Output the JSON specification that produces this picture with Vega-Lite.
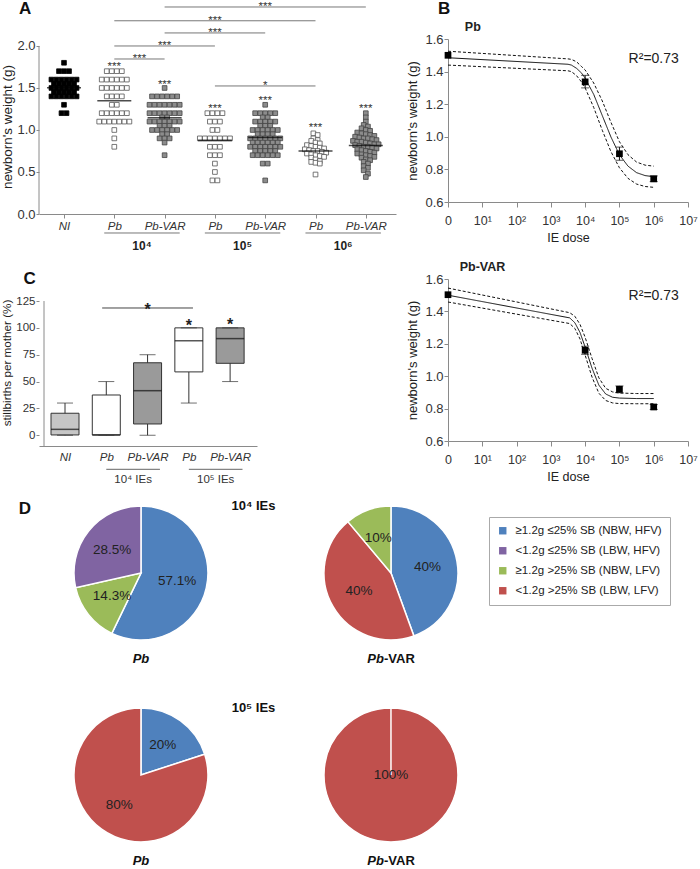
{
"$schema": "https://vega.github.io/schema/vega-lite/v6.json",
"background": "white",
"padding": {"left": 0, "top": 0, "right": 0, "bottom": 0},
"autosize": {"type": "pad"},
"config": {
  "font": "Liberation Sans",
  "view": {"stroke": null},
  "axis": {"domainColor": "#8a8a8a", "tickColor": "#8a8a8a", "labelColor": "#333333", "titleColor": "#222222", "titleFontWeight": "normal", "grid": false, "labelFlush": false, "labelOverlap": false}
},
"columns": 2,
"bounds": "flush",
"spacing": {"row": 65, "column": 52},
"resolve": {"scale": {"fill": "independent", "stroke": "independent", "color": "independent", "strokeDash": "independent", "theta": "independent"}},
"datasets": {
"A": [
{"g":"NI","w":1.8},
{"g":"NI","w":1.7},{"g":"NI","w":1.7},{"g":"NI","w":1.7},
{"g":"NI","w":1.6},{"g":"NI","w":1.6},{"g":"NI","w":1.6},{"g":"NI","w":1.6},{"g":"NI","w":1.6},{"g":"NI","w":1.6},
{"g":"NI","w":1.55},{"g":"NI","w":1.55},{"g":"NI","w":1.55},{"g":"NI","w":1.55},{"g":"NI","w":1.55},
{"g":"NI","w":1.5},{"g":"NI","w":1.5},{"g":"NI","w":1.5},{"g":"NI","w":1.5},{"g":"NI","w":1.5},{"g":"NI","w":1.5},
{"g":"NI","w":1.45},{"g":"NI","w":1.45},{"g":"NI","w":1.45},{"g":"NI","w":1.45},{"g":"NI","w":1.45},
{"g":"NI","w":1.4},{"g":"NI","w":1.4},{"g":"NI","w":1.4},{"g":"NI","w":1.4},{"g":"NI","w":1.4},{"g":"NI","w":1.4},
{"g":"NI","w":1.3},
{"g":"NI","w":1.2},{"g":"NI","w":1.2},
{"g":"Pb 1e4","w":1.7},{"g":"Pb 1e4","w":1.7},{"g":"Pb 1e4","w":1.7},{"g":"Pb 1e4","w":1.7},
{"g":"Pb 1e4","w":1.6},{"g":"Pb 1e4","w":1.6},{"g":"Pb 1e4","w":1.6},{"g":"Pb 1e4","w":1.6},{"g":"Pb 1e4","w":1.6},{"g":"Pb 1e4","w":1.6},
{"g":"Pb 1e4","w":1.5},{"g":"Pb 1e4","w":1.5},{"g":"Pb 1e4","w":1.5},{"g":"Pb 1e4","w":1.5},{"g":"Pb 1e4","w":1.5},{"g":"Pb 1e4","w":1.5},
{"g":"Pb 1e4","w":1.4},{"g":"Pb 1e4","w":1.4},{"g":"Pb 1e4","w":1.4},{"g":"Pb 1e4","w":1.4},
{"g":"Pb 1e4","w":1.3},{"g":"Pb 1e4","w":1.3},
{"g":"Pb 1e4","w":1.2},{"g":"Pb 1e4","w":1.2},{"g":"Pb 1e4","w":1.2},{"g":"Pb 1e4","w":1.2},{"g":"Pb 1e4","w":1.2},{"g":"Pb 1e4","w":1.2},
{"g":"Pb 1e4","w":1.1},{"g":"Pb 1e4","w":1.1},{"g":"Pb 1e4","w":1.1},{"g":"Pb 1e4","w":1.1},{"g":"Pb 1e4","w":1.1},{"g":"Pb 1e4","w":1.1},{"g":"Pb 1e4","w":1.1},
{"g":"Pb 1e4","w":1.0},{"g":"Pb 1e4","w":0.9},{"g":"Pb 1e4","w":0.8},
{"g":"Pb-VAR 1e4","w":1.5},
{"g":"Pb-VAR 1e4","w":1.4},{"g":"Pb-VAR 1e4","w":1.4},{"g":"Pb-VAR 1e4","w":1.4},{"g":"Pb-VAR 1e4","w":1.4},{"g":"Pb-VAR 1e4","w":1.4},{"g":"Pb-VAR 1e4","w":1.4},
{"g":"Pb-VAR 1e4","w":1.3},{"g":"Pb-VAR 1e4","w":1.3},{"g":"Pb-VAR 1e4","w":1.3},{"g":"Pb-VAR 1e4","w":1.3},{"g":"Pb-VAR 1e4","w":1.3},{"g":"Pb-VAR 1e4","w":1.3},{"g":"Pb-VAR 1e4","w":1.3},
{"g":"Pb-VAR 1e4","w":1.2},{"g":"Pb-VAR 1e4","w":1.2},{"g":"Pb-VAR 1e4","w":1.2},{"g":"Pb-VAR 1e4","w":1.2},{"g":"Pb-VAR 1e4","w":1.2},{"g":"Pb-VAR 1e4","w":1.2},{"g":"Pb-VAR 1e4","w":1.2},
{"g":"Pb-VAR 1e4","w":1.15},{"g":"Pb-VAR 1e4","w":1.15},
{"g":"Pb-VAR 1e4","w":1.1},{"g":"Pb-VAR 1e4","w":1.1},{"g":"Pb-VAR 1e4","w":1.1},{"g":"Pb-VAR 1e4","w":1.1},{"g":"Pb-VAR 1e4","w":1.1},{"g":"Pb-VAR 1e4","w":1.1},{"g":"Pb-VAR 1e4","w":1.1},
{"g":"Pb-VAR 1e4","w":1.05},{"g":"Pb-VAR 1e4","w":1.05},{"g":"Pb-VAR 1e4","w":1.05},
{"g":"Pb-VAR 1e4","w":1.0},{"g":"Pb-VAR 1e4","w":1.0},{"g":"Pb-VAR 1e4","w":1.0},{"g":"Pb-VAR 1e4","w":1.0},{"g":"Pb-VAR 1e4","w":1.0},{"g":"Pb-VAR 1e4","w":1.0},
{"g":"Pb-VAR 1e4","w":0.95},{"g":"Pb-VAR 1e4","w":0.95},
{"g":"Pb-VAR 1e4","w":0.9},{"g":"Pb-VAR 1e4","w":0.9},{"g":"Pb-VAR 1e4","w":0.9},
{"g":"Pb-VAR 1e4","w":0.85},{"g":"Pb-VAR 1e4","w":0.7},
{"g":"Pb 1e5","w":1.2},{"g":"Pb 1e5","w":1.2},{"g":"Pb 1e5","w":1.2},{"g":"Pb 1e5","w":1.2},
{"g":"Pb 1e5","w":1.1},{"g":"Pb 1e5","w":1.1},{"g":"Pb 1e5","w":1.1},
{"g":"Pb 1e5","w":1.0},{"g":"Pb 1e5","w":1.0},
{"g":"Pb 1e5","w":0.9},{"g":"Pb 1e5","w":0.9},{"g":"Pb 1e5","w":0.9},{"g":"Pb 1e5","w":0.9},{"g":"Pb 1e5","w":0.9},{"g":"Pb 1e5","w":0.9},{"g":"Pb 1e5","w":0.9},
{"g":"Pb 1e5","w":0.8},{"g":"Pb 1e5","w":0.8},{"g":"Pb 1e5","w":0.8},
{"g":"Pb 1e5","w":0.7},{"g":"Pb 1e5","w":0.7},{"g":"Pb 1e5","w":0.7},
{"g":"Pb 1e5","w":0.6},{"g":"Pb 1e5","w":0.5},{"g":"Pb 1e5","w":0.4},{"g":"Pb 1e5","w":0.4},
{"g":"Pb-VAR 1e5","w":1.3},
{"g":"Pb-VAR 1e5","w":1.2},{"g":"Pb-VAR 1e5","w":1.2},{"g":"Pb-VAR 1e5","w":1.2},{"g":"Pb-VAR 1e5","w":1.2},{"g":"Pb-VAR 1e5","w":1.2},
{"g":"Pb-VAR 1e5","w":1.15},{"g":"Pb-VAR 1e5","w":1.15},
{"g":"Pb-VAR 1e5","w":1.1},{"g":"Pb-VAR 1e5","w":1.1},{"g":"Pb-VAR 1e5","w":1.1},{"g":"Pb-VAR 1e5","w":1.1},{"g":"Pb-VAR 1e5","w":1.1},
{"g":"Pb-VAR 1e5","w":1.05},{"g":"Pb-VAR 1e5","w":1.05},{"g":"Pb-VAR 1e5","w":1.05},
{"g":"Pb-VAR 1e5","w":1.0},{"g":"Pb-VAR 1e5","w":1.0},{"g":"Pb-VAR 1e5","w":1.0},{"g":"Pb-VAR 1e5","w":1.0},{"g":"Pb-VAR 1e5","w":1.0},{"g":"Pb-VAR 1e5","w":1.0},
{"g":"Pb-VAR 1e5","w":0.95},{"g":"Pb-VAR 1e5","w":0.95},{"g":"Pb-VAR 1e5","w":0.95},{"g":"Pb-VAR 1e5","w":0.95},
{"g":"Pb-VAR 1e5","w":0.9},{"g":"Pb-VAR 1e5","w":0.9},{"g":"Pb-VAR 1e5","w":0.9},{"g":"Pb-VAR 1e5","w":0.9},{"g":"Pb-VAR 1e5","w":0.9},{"g":"Pb-VAR 1e5","w":0.9},{"g":"Pb-VAR 1e5","w":0.9},
{"g":"Pb-VAR 1e5","w":0.85},{"g":"Pb-VAR 1e5","w":0.85},{"g":"Pb-VAR 1e5","w":0.85},{"g":"Pb-VAR 1e5","w":0.85},{"g":"Pb-VAR 1e5","w":0.85},{"g":"Pb-VAR 1e5","w":0.85},
{"g":"Pb-VAR 1e5","w":0.8},{"g":"Pb-VAR 1e5","w":0.8},{"g":"Pb-VAR 1e5","w":0.8},{"g":"Pb-VAR 1e5","w":0.8},{"g":"Pb-VAR 1e5","w":0.8},{"g":"Pb-VAR 1e5","w":0.8},{"g":"Pb-VAR 1e5","w":0.8},
{"g":"Pb-VAR 1e5","w":0.75},{"g":"Pb-VAR 1e5","w":0.75},{"g":"Pb-VAR 1e5","w":0.75},{"g":"Pb-VAR 1e5","w":0.75},{"g":"Pb-VAR 1e5","w":0.75},
{"g":"Pb-VAR 1e5","w":0.7},{"g":"Pb-VAR 1e5","w":0.7},{"g":"Pb-VAR 1e5","w":0.7},{"g":"Pb-VAR 1e5","w":0.7},{"g":"Pb-VAR 1e5","w":0.7},{"g":"Pb-VAR 1e5","w":0.7},
{"g":"Pb-VAR 1e5","w":0.6},{"g":"Pb-VAR 1e5","w":0.6},{"g":"Pb-VAR 1e5","w":0.4},
{"g":"Pb 1e6","w":0.96},{"g":"Pb 1e6","w":0.94},{"g":"Pb 1e6","w":0.90},{"g":"Pb 1e6","w":0.88},{"g":"Pb 1e6","w":0.87},{"g":"Pb 1e6","w":0.85},
{"g":"Pb 1e6","w":0.84},{"g":"Pb 1e6","w":0.82},{"g":"Pb 1e6","w":0.81},{"g":"Pb 1e6","w":0.80},{"g":"Pb 1e6","w":0.79},{"g":"Pb 1e6","w":0.78},
{"g":"Pb 1e6","w":0.77},{"g":"Pb 1e6","w":0.76},{"g":"Pb 1e6","w":0.75},{"g":"Pb 1e6","w":0.75},{"g":"Pb 1e6","w":0.74},{"g":"Pb 1e6","w":0.73},
{"g":"Pb 1e6","w":0.72},{"g":"Pb 1e6","w":0.71},{"g":"Pb 1e6","w":0.70},{"g":"Pb 1e6","w":0.69},{"g":"Pb 1e6","w":0.68},{"g":"Pb 1e6","w":0.67},
{"g":"Pb 1e6","w":0.65},{"g":"Pb 1e6","w":0.63},{"g":"Pb 1e6","w":0.62},{"g":"Pb 1e6","w":0.61},{"g":"Pb 1e6","w":0.60},{"g":"Pb 1e6","w":0.47},
{"g":"Pb-VAR 1e6","w":1.20},{"g":"Pb-VAR 1e6","w":1.15},{"g":"Pb-VAR 1e6","w":1.10},{"g":"Pb-VAR 1e6","w":1.06},{"g":"Pb-VAR 1e6","w":1.04},{"g":"Pb-VAR 1e6","w":1.02},
{"g":"Pb-VAR 1e6","w":1.00},{"g":"Pb-VAR 1e6","w":0.99},{"g":"Pb-VAR 1e6","w":0.97},{"g":"Pb-VAR 1e6","w":0.96},{"g":"Pb-VAR 1e6","w":0.95},{"g":"Pb-VAR 1e6","w":0.94},
{"g":"Pb-VAR 1e6","w":0.93},{"g":"Pb-VAR 1e6","w":0.92},{"g":"Pb-VAR 1e6","w":0.91},{"g":"Pb-VAR 1e6","w":0.90},{"g":"Pb-VAR 1e6","w":0.90},{"g":"Pb-VAR 1e6","w":0.89},
{"g":"Pb-VAR 1e6","w":0.88},{"g":"Pb-VAR 1e6","w":0.87},{"g":"Pb-VAR 1e6","w":0.86},{"g":"Pb-VAR 1e6","w":0.86},{"g":"Pb-VAR 1e6","w":0.85},{"g":"Pb-VAR 1e6","w":0.84},
{"g":"Pb-VAR 1e6","w":0.83},{"g":"Pb-VAR 1e6","w":0.83},{"g":"Pb-VAR 1e6","w":0.82},{"g":"Pb-VAR 1e6","w":0.81},{"g":"Pb-VAR 1e6","w":0.80},{"g":"Pb-VAR 1e6","w":0.80},
{"g":"Pb-VAR 1e6","w":0.79},{"g":"Pb-VAR 1e6","w":0.78},{"g":"Pb-VAR 1e6","w":0.77},{"g":"Pb-VAR 1e6","w":0.76},{"g":"Pb-VAR 1e6","w":0.75},{"g":"Pb-VAR 1e6","w":0.74},
{"g":"Pb-VAR 1e6","w":0.73},{"g":"Pb-VAR 1e6","w":0.72},{"g":"Pb-VAR 1e6","w":0.71},{"g":"Pb-VAR 1e6","w":0.70},{"g":"Pb-VAR 1e6","w":0.69},{"g":"Pb-VAR 1e6","w":0.68},
{"g":"Pb-VAR 1e6","w":0.67},{"g":"Pb-VAR 1e6","w":0.65},{"g":"Pb-VAR 1e6","w":0.64},{"g":"Pb-VAR 1e6","w":0.62},{"g":"Pb-VAR 1e6","w":0.60},{"g":"Pb-VAR 1e6","w":0.57},
{"g":"Pb-VAR 1e6","w":0.55},{"g":"Pb-VAR 1e6","w":0.52},{"g":"Pb-VAR 1e6","w":0.48},{"g":"Pb-VAR 1e6","w":0.44}
],
"Astar": [
{"g":"Pb 1e4","y":1.78},{"g":"Pb-VAR 1e4","y":1.575},{"g":"Pb 1e5","y":1.29},{"g":"Pb-VAR 1e5","y":1.38},{"g":"Pb 1e6","y":1.06},{"g":"Pb-VAR 1e6","y":1.29}
],
"Asig": [
{"a":"Pb 1e4","b":"Pb-VAR 1e4","y":1.845,"t":"***"},
{"a":"Pb 1e4","b":"Pb 1e5","y":2.0,"t":"***"},
{"a":"Pb-VAR 1e4","b":"Pb-VAR 1e5","y":2.155,"t":"***"},
{"a":"Pb 1e4","b":"Pb 1e6","y":2.3,"t":"***"},
{"a":"Pb-VAR 1e4","b":"Pb-VAR 1e6","y":2.464,"t":"***"},
{"a":"Pb 1e5","b":"Pb 1e6","y":1.524,"t":"*"}
],
"Agrp": [
{"a":"Pb 1e4","b":"Pb-VAR 1e4","t":"10⁴"},
{"a":"Pb 1e5","b":"Pb-VAR 1e5","t":"10⁵"},
{"a":"Pb 1e6","b":"Pb-VAR 1e6","t":"10⁶"}
],
"C": [
{"g":"NI","lo":0,"q1":0.3,"med":5.5,"q3":20.5,"hi":30},
{"g":"Pb 1e4","lo":0,"q1":0.3,"med":0.3,"q3":37.5,"hi":50},
{"g":"Pb-VAR 1e4","lo":0,"q1":10.5,"med":41.5,"q3":67.5,"hi":75},
{"g":"Pb 1e5","lo":30,"q1":59,"med":88,"q3":100,"hi":100},
{"g":"Pb-VAR 1e5","lo":50,"q1":67,"med":90,"q3":100,"hi":100}
],
"Csig": [{"a":"Pb 1e4","b":"Pb 1e5","y":118.5,"t":"*"}],
"Cstar": [{"g":"Pb 1e5","y":105.4},{"g":"Pb-VAR 1e5","y":106.5}],
"Cgrp": [
{"a":"Pb 1e4","b":"Pb-VAR 1e4","t":"10⁴ IEs"},
{"a":"Pb 1e5","b":"Pb-VAR 1e5","t":"10⁵ IEs"}
],
"Bfit": [
{"s":"Pb","k":"fit","x":0,"y":1.485},{"s":"Pb","k":"fit","x":3.5,"y":1.445},{"s":"Pb","k":"fit","x":3.6,"y":1.44},{"s":"Pb","k":"fit","x":3.75,"y":1.42},{"s":"Pb","k":"fit","x":3.9,"y":1.39},{"s":"Pb","k":"fit","x":4.0,"y":1.36},{"s":"Pb","k":"fit","x":4.25,"y":1.26},{"s":"Pb","k":"fit","x":4.5,"y":1.13},{"s":"Pb","k":"fit","x":4.75,"y":1.0},{"s":"Pb","k":"fit","x":5.0,"y":0.89},{"s":"Pb","k":"fit","x":5.25,"y":0.82},{"s":"Pb","k":"fit","x":5.5,"y":0.78},{"s":"Pb","k":"fit","x":5.75,"y":0.762},{"s":"Pb","k":"fit","x":6.0,"y":0.755},
{"s":"Pb","k":"upper","x":0,"y":1.525},{"s":"Pb","k":"upper","x":3.5,"y":1.478},{"s":"Pb","k":"upper","x":3.6,"y":1.475},{"s":"Pb","k":"upper","x":3.75,"y":1.46},{"s":"Pb","k":"upper","x":3.9,"y":1.43},{"s":"Pb","k":"upper","x":4.0,"y":1.41},{"s":"Pb","k":"upper","x":4.25,"y":1.33},{"s":"Pb","k":"upper","x":4.5,"y":1.22},{"s":"Pb","k":"upper","x":4.75,"y":1.09},{"s":"Pb","k":"upper","x":5.0,"y":0.97},{"s":"Pb","k":"upper","x":5.25,"y":0.89},{"s":"Pb","k":"upper","x":5.5,"y":0.845},{"s":"Pb","k":"upper","x":5.75,"y":0.826},{"s":"Pb","k":"upper","x":6.0,"y":0.82},
{"s":"Pb","k":"lower","x":0,"y":1.44},{"s":"Pb","k":"lower","x":3.5,"y":1.405},{"s":"Pb","k":"lower","x":3.6,"y":1.4},{"s":"Pb","k":"lower","x":3.75,"y":1.375},{"s":"Pb","k":"lower","x":3.9,"y":1.335},{"s":"Pb","k":"lower","x":4.0,"y":1.3},{"s":"Pb","k":"lower","x":4.25,"y":1.18},{"s":"Pb","k":"lower","x":4.5,"y":1.04},{"s":"Pb","k":"lower","x":4.75,"y":0.91},{"s":"Pb","k":"lower","x":5.0,"y":0.81},{"s":"Pb","k":"lower","x":5.25,"y":0.745},{"s":"Pb","k":"lower","x":5.5,"y":0.71},{"s":"Pb","k":"lower","x":5.75,"y":0.695},{"s":"Pb","k":"lower","x":6.0,"y":0.69},
{"s":"Pb-VAR","k":"fit","x":0,"y":1.5},{"s":"Pb-VAR","k":"fit","x":3.55,"y":1.36},{"s":"Pb-VAR","k":"fit","x":3.7,"y":1.33},{"s":"Pb-VAR","k":"fit","x":3.85,"y":1.27},{"s":"Pb-VAR","k":"fit","x":4.0,"y":1.18},{"s":"Pb-VAR","k":"fit","x":4.2,"y":1.05},{"s":"Pb-VAR","k":"fit","x":4.4,"y":0.945},{"s":"Pb-VAR","k":"fit","x":4.6,"y":0.89},{"s":"Pb-VAR","k":"fit","x":4.8,"y":0.87},{"s":"Pb-VAR","k":"fit","x":5.0,"y":0.865},{"s":"Pb-VAR","k":"fit","x":5.5,"y":0.862},{"s":"Pb-VAR","k":"fit","x":6.0,"y":0.862},
{"s":"Pb-VAR","k":"upper","x":0,"y":1.544},{"s":"Pb-VAR","k":"upper","x":3.55,"y":1.392},{"s":"Pb-VAR","k":"upper","x":3.7,"y":1.37},{"s":"Pb-VAR","k":"upper","x":3.85,"y":1.32},{"s":"Pb-VAR","k":"upper","x":4.0,"y":1.24},{"s":"Pb-VAR","k":"upper","x":4.2,"y":1.11},{"s":"Pb-VAR","k":"upper","x":4.4,"y":0.99},{"s":"Pb-VAR","k":"upper","x":4.6,"y":0.925},{"s":"Pb-VAR","k":"upper","x":4.8,"y":0.903},{"s":"Pb-VAR","k":"upper","x":5.0,"y":0.896},{"s":"Pb-VAR","k":"upper","x":5.5,"y":0.893},{"s":"Pb-VAR","k":"upper","x":6.0,"y":0.893},
{"s":"Pb-VAR","k":"lower","x":0,"y":1.458},{"s":"Pb-VAR","k":"lower","x":3.55,"y":1.325},{"s":"Pb-VAR","k":"lower","x":3.7,"y":1.295},{"s":"Pb-VAR","k":"lower","x":3.85,"y":1.23},{"s":"Pb-VAR","k":"lower","x":4.0,"y":1.13},{"s":"Pb-VAR","k":"lower","x":4.2,"y":0.995},{"s":"Pb-VAR","k":"lower","x":4.4,"y":0.895},{"s":"Pb-VAR","k":"lower","x":4.6,"y":0.85},{"s":"Pb-VAR","k":"lower","x":4.8,"y":0.835},{"s":"Pb-VAR","k":"lower","x":5.0,"y":0.831},{"s":"Pb-VAR","k":"lower","x":5.5,"y":0.83},{"s":"Pb-VAR","k":"lower","x":6.0,"y":0.83}
],
"Bpts": [
{"s":"Pb","x":0,"m":1.5,"lo":1.5,"hi":1.5},
{"s":"Pb","x":4,"m":1.337,"lo":1.3,"hi":1.377},
{"s":"Pb","x":5,"m":0.896,"lo":0.856,"hi":0.937},
{"s":"Pb","x":6,"m":0.742,"lo":0.725,"hi":0.76},
{"s":"Pb-VAR","x":0,"m":1.503,"lo":1.503,"hi":1.503},
{"s":"Pb-VAR","x":4,"m":1.16,"lo":1.135,"hi":1.185},
{"s":"Pb-VAR","x":5,"m":0.919,"lo":0.898,"hi":0.94},
{"s":"Pb-VAR","x":6,"m":0.81,"lo":0.795,"hi":0.825}
],
"D": [
{"dose":"10⁴","strain":"Pb","cat":"≥1.2g ≤25% SB (NBW, HFV)","v":57.1},
{"dose":"10⁴","strain":"Pb","cat":"≥1.2g >25% SB (NBW, LFV)","v":14.3},
{"dose":"10⁴","strain":"Pb","cat":"<1.2g ≤25% SB (LBW, HFV)","v":28.5},
{"dose":"10⁴","strain":"Pb-VAR","cat":"≥1.2g ≤25% SB (NBW, HFV)","v":40},
{"dose":"10⁴","strain":"Pb-VAR","cat":"<1.2g >25% SB (LBW, LFV)","v":40},
{"dose":"10⁴","strain":"Pb-VAR","cat":"≥1.2g >25% SB (NBW, LFV)","v":10},
{"dose":"10⁵","strain":"Pb","cat":"≥1.2g ≤25% SB (NBW, HFV)","v":20},
{"dose":"10⁵","strain":"Pb","cat":"<1.2g >25% SB (LBW, LFV)","v":80},
{"dose":"10⁵","strain":"Pb-VAR","cat":"<1.2g >25% SB (LBW, LFV)","v":100}
]
},
"concat": [
{
"width": 357, "height": 175,
"layer": [
 {
  "data": {"name": "A"},
  "transform": [
   {"calculate": "indexof(['NI','Pb 1e4','Pb-VAR 1e4','Pb 1e5','Pb-VAR 1e5','Pb 1e6','Pb-VAR 1e6'], datum.g) + 1", "as": "gi"},
   {"calculate": "split(datum.g, ' ')[0]", "as": "strain"},
   {"calculate": "round(datum.w * 20)", "as": "bin"},
   {"window": [{"op": "row_number", "as": "rk"}, {"op": "count", "as": "n"}], "groupby": ["g", "bin"], "frame": [null, null]},
   {"calculate": "datum.gi + (datum.rk - (datum.n + 1) / 2) * (datum.gi >= 6 ? 0.085 : 0.1)", "as": "xp"}
  ],
  "mark": {"type": "square", "size": 22, "strokeWidth": 0.8, "opacity": 1, "filled": true},
  "encoding": {
   "x": {"field": "xp", "type": "quantitative", "scale": {"domain": [0.503, 7.6], "nice": false, "zero": false},
         "axis": {"title": null, "values": [1,2,3,4,5,6,7], "tickCount": 20, "labelExpr": "['NI','Pb','Pb-VAR','Pb','Pb-VAR','Pb','Pb-VAR'][datum.value - 1]", "labelFontStyle": "italic", "labelFontSize": 11.5, "tickSize": 4, "labelPadding": 2, "labelOverlap": false}},
   "y": {"field": "w", "type": "quantitative", "scale": {"domain": [0, 2.083], "nice": false, "zero": false},
         "axis": {"title": "newborn's weight (g)", "values": [0, 0.5, 1, 1.5, 2], "tickCount": 20, "format": ".1f", "domain": false, "tickSize": 3, "labelPadding": 1, "labelFontSize": 13, "titleFontSize": 13.5, "titlePadding": 2, "labelOverlap": false}},
   "fill": {"field": "strain", "type": "nominal", "scale": {"domain": ["NI","Pb","Pb-VAR"], "range": ["#000000","#ffffff","#8c8c8c"]}, "legend": null},
   "stroke": {"field": "strain", "type": "nominal", "scale": {"domain": ["NI","Pb","Pb-VAR"], "range": ["#000000","#555555","#444444"]}, "legend": null}
  }
 },
 {
  "data": {"name": "A"},
  "transform": [
   {"aggregate": [{"op": "mean", "field": "w", "as": "m"}], "groupby": ["g"]},
   {"calculate": "indexof(['NI','Pb 1e4','Pb-VAR 1e4','Pb 1e5','Pb-VAR 1e5','Pb 1e6','Pb-VAR 1e6'], datum.g) + 1", "as": "gi"}
  ],
  "mark": {"type": "tick", "orient": "horizontal", "size": 34, "thickness": 1.6, "color": "#000000"},
  "encoding": {"x": {"field": "gi", "type": "quantitative"}, "y": {"field": "m", "type": "quantitative"}}
 },
 {
  "data": {"name": "Astar"},
  "transform": [{"calculate": "indexof(['NI','Pb 1e4','Pb-VAR 1e4','Pb 1e5','Pb-VAR 1e5','Pb 1e6','Pb-VAR 1e6'], datum.g) + 1", "as": "gi"}],
  "mark": {"type": "text", "fontSize": 11.5, "color": "#333333", "baseline": "alphabetic", "dy": 6},
  "encoding": {"x": {"field": "gi", "type": "quantitative"}, "y": {"field": "y", "type": "quantitative"}, "text": {"value": "***"}}
 },
 {
  "data": {"name": "Asig"},
  "transform": [
   {"calculate": "indexof(['NI','Pb 1e4','Pb-VAR 1e4','Pb 1e5','Pb-VAR 1e5','Pb 1e6','Pb-VAR 1e6'], datum.a) + 1", "as": "xa"},
   {"calculate": "indexof(['NI','Pb 1e4','Pb-VAR 1e4','Pb 1e5','Pb-VAR 1e5','Pb 1e6','Pb-VAR 1e6'], datum.b) + 1", "as": "xb"},
   {"calculate": "(datum.xa + datum.xb) / 2", "as": "xm"}
  ],
  "layer": [
   {"mark": {"type": "rule", "color": "#777777", "strokeWidth": 1}, "encoding": {"x": {"field": "xa", "type": "quantitative"}, "x2": {"field": "xb"}, "y": {"field": "y", "type": "quantitative"}}},
   {"mark": {"type": "text", "fontSize": 11.5, "color": "#333333", "baseline": "alphabetic", "dy": 3}, "encoding": {"x": {"field": "xm", "type": "quantitative"}, "y": {"field": "y", "type": "quantitative"}, "text": {"field": "t"}}}
  ]
 },
 {
  "data": {"name": "Agrp"},
  "transform": [
   {"calculate": "indexof(['NI','Pb 1e4','Pb-VAR 1e4','Pb 1e5','Pb-VAR 1e5','Pb 1e6','Pb-VAR 1e6'], datum.a) + 0.8", "as": "x1"},
   {"calculate": "indexof(['NI','Pb 1e4','Pb-VAR 1e4','Pb 1e5','Pb-VAR 1e5','Pb 1e6','Pb-VAR 1e6'], datum.b) + 1.3", "as": "x2"},
   {"calculate": "(datum.x1 + datum.x2) / 2", "as": "xm"}
  ],
  "layer": [
   {"mark": {"type": "rule", "color": "#777777", "strokeWidth": 1}, "encoding": {"x": {"field": "x1", "type": "quantitative"}, "x2": {"field": "x2"}, "y": {"datum": -0.226}}},
   {"mark": {"type": "text", "fontSize": 12, "fontWeight": "bold", "color": "#222222"}, "encoding": {"x": {"field": "xm", "type": "quantitative"}, "y": {"datum": -0.385}, "text": {"field": "t"}}}
  ]
 },
 {
  "data": {"values": [{}]},
  "mark": {"type": "rule", "color": "#8a8a8a"},
  "encoding": {"x": {"datum": 0.503}, "y": {"datum": 0}, "y2": {"datum": 2}}
 },
 {
  "data": {"values": [{"t": "A"}]},
  "mark": {"type": "text", "fontSize": 17, "fontWeight": "bold", "color": "#111111"},
  "encoding": {"x": {"datum": 0.225}, "y": {"datum": 2.435}, "text": {"field": "t"}}
 }
]
},
{
"width": 240, "height": 163,
"layer": [
 {
  "data": {"name": "Bfit"},
  "transform": [{"filter": "datum.s == 'Pb'"}],
  "mark": {"type": "line", "color": "#111111", "strokeWidth": 1},
  "encoding": {
   "x": {"field": "x", "type": "quantitative", "scale": {"domain": [0, 7], "nice": false, "zero": false},
         "axis": {"title": "IE dose", "values": [0,1,2,3,4,5,6,7], "tickCount": 20, "labelExpr": "datum.value == 0 ? '0' : '10' + ['⁰','¹','²','³','⁴','⁵','⁶','⁷'][datum.value]", "tickSize": 5, "labelPadding": 7, "titlePadding": 5, "labelFontSize": 12.5, "titleFontSize": 12.5, "labelOverlap": false}},
   "y": {"field": "y", "type": "quantitative", "scale": {"domain": [0.6, 1.6], "nice": false, "zero": false},
         "axis": {"title": "newborn's weight (g)", "values": [0.6, 0.8, 1.0, 1.2, 1.4, 1.6], "tickCount": 20, "format": ".1f", "tickSize": 4, "labelPadding": 1, "labelFontSize": 13, "titleFontSize": 13, "titlePadding": 5, "labelOverlap": false}},
   "detail": {"field": "k"},
   "strokeDash": {"field": "k", "type": "nominal", "scale": {"domain": ["fit","lower","upper"], "range": [[1,0],[3,2],[3,2]]}, "legend": null}
  }
 },
 {
  "data": {"name": "Bpts"},
  "transform": [{"filter": "datum.s == 'Pb' && datum.hi > datum.lo"}],
  "mark": {"type": "rule", "color": "#111111"},
  "encoding": {"x": {"field": "x", "type": "quantitative"}, "y": {"field": "lo", "type": "quantitative"}, "y2": {"field": "hi"}}
 },
 {
  "data": {"name": "Bpts"},
  "transform": [{"filter": "datum.s == 'Pb' && datum.hi > datum.lo"}, {"fold": ["lo", "hi"], "as": ["end", "yv"]}],
  "mark": {"type": "tick", "orient": "horizontal", "size": 8, "thickness": 1, "color": "#111111"},
  "encoding": {"x": {"field": "x", "type": "quantitative"}, "y": {"field": "yv", "type": "quantitative"}}
 },
 {
  "data": {"name": "Bpts"},
  "transform": [{"filter": "datum.s == 'Pb'"}],
  "mark": {"type": "square", "size": 45, "color": "#000000", "opacity": 1, "filled": true},
  "encoding": {"x": {"field": "x", "type": "quantitative"}, "y": {"field": "m", "type": "quantitative"}}
 },
 {
  "data": {"values": [{"t": "R²=0.73"}]},
  "mark": {"type": "text", "fontSize": 14, "color": "#222222"},
  "encoding": {"x": {"datum": 6.0}, "y": {"datum": 1.48}, "text": {"field": "t"}}
 },
 {
  "data": {"values": [{"t": "Pb"}]},
  "mark": {"type": "text", "fontSize": 12.5, "fontWeight": "bold", "color": "#222222", "align": "left"},
  "encoding": {"x": {"datum": 0.49}, "y": {"datum": 1.674}, "text": {"field": "t"}}
 },
 {
  "data": {"values": [{"t": "B"}]},
  "mark": {"type": "text", "fontSize": 17, "fontWeight": "bold", "color": "#111111"},
  "encoding": {"x": {"datum": -0.114}, "y": {"datum": 1.784}, "text": {"field": "t"}}
 }
]
},
{
"width": 218, "height": 167,
"layer": [
 {
  "data": {"name": "C"},
  "transform": [{"calculate": "indexof(['NI','Pb 1e4','Pb-VAR 1e4','Pb 1e5','Pb-VAR 1e5'], datum.g) + 1", "as": "gi"}],
  "mark": {"type": "rule", "color": "#333333"},
  "encoding": {
   "x": {"field": "gi", "type": "quantitative", "scale": {"domain": [0.491, 5.53], "nice": false, "zero": false},
         "axis": {"title": null, "values": [1,2,3,4,5], "tickCount": 20, "labelExpr": "['NI','Pb','Pb-VAR','Pb','Pb-VAR'][datum.value - 1]", "labelFontStyle": "italic", "labelFontSize": 11.5, "ticks": false, "labelPadding": 5, "labelOverlap": false}},
   "y": {"field": "lo", "type": "quantitative", "scale": {"domain": [-10, 145.5], "nice": false, "zero": false},
         "axis": {"title": "stillbirths per mother (%)", "values": [0, 25, 50, 75, 100, 125], "tickCount": 20, "domain": false, "tickSize": 3, "labelPadding": 1, "labelFontSize": 11.5, "titleFontSize": 11.7, "titlePadding": 3, "labelOverlap": false}},
   "y2": {"field": "hi"}
  }
 },
 {
  "data": {"name": "C"},
  "transform": [
   {"calculate": "indexof(['NI','Pb 1e4','Pb-VAR 1e4','Pb 1e5','Pb-VAR 1e5'], datum.g) + 1", "as": "gi"},
   {"calculate": "split(datum.g, ' ')[0]", "as": "strain"}
  ],
  "mark": {"type": "bar", "width": 28, "stroke": "#333333", "strokeWidth": 1},
  "encoding": {
   "x": {"field": "gi", "type": "quantitative"},
   "y": {"field": "q1", "type": "quantitative"}, "y2": {"field": "q3"},
   "fill": {"field": "strain", "type": "nominal", "scale": {"domain": ["NI","Pb","Pb-VAR"], "range": ["#c6c6c6","#ffffff","#9a9a9a"]}, "legend": null}
  }
 },
 {
  "data": {"name": "C"},
  "transform": [{"calculate": "indexof(['NI','Pb 1e4','Pb-VAR 1e4','Pb 1e5','Pb-VAR 1e5'], datum.g) + 1", "as": "gi"}],
  "mark": {"type": "tick", "orient": "horizontal", "size": 28, "thickness": 1.5, "color": "#111111"},
  "encoding": {"x": {"field": "gi", "type": "quantitative"}, "y": {"field": "med", "type": "quantitative"}}
 },
 {
  "data": {"name": "C"},
  "transform": [{"calculate": "indexof(['NI','Pb 1e4','Pb-VAR 1e4','Pb 1e5','Pb-VAR 1e5'], datum.g) + 1", "as": "gi"}, {"fold": ["lo", "hi"], "as": ["end", "v"]}],
  "mark": {"type": "tick", "orient": "horizontal", "size": 16, "thickness": 1, "color": "#333333"},
  "encoding": {"x": {"field": "gi", "type": "quantitative"}, "y": {"field": "v", "type": "quantitative"}}
 },
 {
  "data": {"name": "Csig"},
  "transform": [
   {"calculate": "indexof(['NI','Pb 1e4','Pb-VAR 1e4','Pb 1e5','Pb-VAR 1e5'], datum.a) + 0.9", "as": "xa"},
   {"calculate": "indexof(['NI','Pb 1e4','Pb-VAR 1e4','Pb 1e5','Pb-VAR 1e5'], datum.b) + 1.1", "as": "xb"},
   {"calculate": "(datum.xa + datum.xb) / 2", "as": "xm"}
  ],
  "layer": [
   {"mark": {"type": "rule", "color": "#444444"}, "encoding": {"x": {"field": "xa", "type": "quantitative"}, "x2": {"field": "xb"}, "y": {"field": "y", "type": "quantitative"}}},
   {"mark": {"type": "text", "fontSize": 16, "fontWeight": "bold", "baseline": "alphabetic", "dy": 7, "color": "#222222"}, "encoding": {"x": {"field": "xm", "type": "quantitative"}, "y": {"field": "y", "type": "quantitative"}, "text": {"field": "t"}}}
  ]
 },
 {
  "data": {"name": "Cstar"},
  "transform": [{"calculate": "indexof(['NI','Pb 1e4','Pb-VAR 1e4','Pb 1e5','Pb-VAR 1e5'], datum.g) + 1", "as": "gi"}],
  "mark": {"type": "text", "fontSize": 16, "fontWeight": "bold", "baseline": "alphabetic", "dy": 9, "color": "#222222"},
  "encoding": {"x": {"field": "gi", "type": "quantitative"}, "y": {"field": "y", "type": "quantitative"}, "text": {"value": "*"}}
 },
 {
  "data": {"name": "Cgrp"},
  "transform": [
   {"calculate": "indexof(['NI','Pb 1e4','Pb-VAR 1e4','Pb 1e5','Pb-VAR 1e5'], datum.a) + 1", "as": "x1"},
   {"calculate": "indexof(['NI','Pb 1e4','Pb-VAR 1e4','Pb 1e5','Pb-VAR 1e5'], datum.b) + 1.3", "as": "x2"},
   {"calculate": "(datum.x1 + datum.x2) / 2", "as": "xm"}
  ],
  "layer": [
   {"mark": {"type": "rule", "color": "#666666"}, "encoding": {"x": {"field": "x1", "type": "quantitative"}, "x2": {"field": "x2"}, "y": {"datum": -31.7}}},
   {"mark": {"type": "text", "fontSize": 11.5, "color": "#333333"}, "encoding": {"x": {"field": "xm", "type": "quantitative"}, "y": {"datum": -41.5}, "text": {"field": "t"}}}
  ]
 },
 {
  "data": {"values": [{}]},
  "mark": {"type": "rule", "color": "#8a8a8a"},
  "encoding": {"x": {"datum": 0.491}, "y": {"datum": -10}, "y2": {"datum": 125}}
 },
 {
  "data": {"values": [{"t": "C"}]},
  "mark": {"type": "text", "fontSize": 17, "fontWeight": "bold", "color": "#111111"},
  "encoding": {"x": {"datum": 0.144}, "y": {"datum": 145.5}, "text": {"field": "t"}}
 }
]
},
{
"width": 240, "height": 162,
"layer": [
 {
  "data": {"name": "Bfit"},
  "transform": [{"filter": "datum.s == 'Pb-VAR'"}],
  "mark": {"type": "line", "color": "#111111", "strokeWidth": 1},
  "encoding": {
   "x": {"field": "x", "type": "quantitative", "scale": {"domain": [0, 7], "nice": false, "zero": false},
         "axis": {"title": "IE dose", "values": [0,1,2,3,4,5,6,7], "tickCount": 20, "labelExpr": "datum.value == 0 ? '0' : '10' + ['⁰','¹','²','³','⁴','⁵','⁶','⁷'][datum.value]", "tickSize": 5, "labelPadding": 7, "titlePadding": 5, "labelFontSize": 12.5, "titleFontSize": 12.5, "labelOverlap": false}},
   "y": {"field": "y", "type": "quantitative", "scale": {"domain": [0.6, 1.6], "nice": false, "zero": false},
         "axis": {"title": "newborn's weight (g)", "values": [0.6, 0.8, 1.0, 1.2, 1.4, 1.6], "tickCount": 20, "format": ".1f", "tickSize": 4, "labelPadding": 1, "labelFontSize": 13, "titleFontSize": 13, "titlePadding": 5, "labelOverlap": false}},
   "detail": {"field": "k"},
   "strokeDash": {"field": "k", "type": "nominal", "scale": {"domain": ["fit","lower","upper"], "range": [[1,0],[3,2],[3,2]]}, "legend": null}
  }
 },
 {
  "data": {"name": "Bpts"},
  "transform": [{"filter": "datum.s == 'Pb-VAR' && datum.hi > datum.lo"}],
  "mark": {"type": "rule", "color": "#111111"},
  "encoding": {"x": {"field": "x", "type": "quantitative"}, "y": {"field": "lo", "type": "quantitative"}, "y2": {"field": "hi"}}
 },
 {
  "data": {"name": "Bpts"},
  "transform": [{"filter": "datum.s == 'Pb-VAR' && datum.hi > datum.lo"}, {"fold": ["lo", "hi"], "as": ["end", "yv"]}],
  "mark": {"type": "tick", "orient": "horizontal", "size": 8, "thickness": 1, "color": "#111111"},
  "encoding": {"x": {"field": "x", "type": "quantitative"}, "y": {"field": "yv", "type": "quantitative"}}
 },
 {
  "data": {"name": "Bpts"},
  "transform": [{"filter": "datum.s == 'Pb-VAR'"}],
  "mark": {"type": "square", "size": 45, "color": "#000000", "opacity": 1, "filled": true},
  "encoding": {"x": {"field": "x", "type": "quantitative"}, "y": {"field": "m", "type": "quantitative"}}
 },
 {
  "data": {"values": [{"t": "R²=0.73"}]},
  "mark": {"type": "text", "fontSize": 14, "color": "#222222"},
  "encoding": {"x": {"datum": 6.0}, "y": {"datum": 1.495}, "text": {"field": "t"}}
 },
 {
  "data": {"values": [{"t": "Pb-VAR"}]},
  "mark": {"type": "text", "fontSize": 12.5, "fontWeight": "bold", "color": "#222222", "align": "left"},
  "encoding": {"x": {"datum": 0.34}, "y": {"datum": 1.674}, "text": {"field": "t"}}
 }
]
},
{
"width": 357, "height": 340,
"layer": [
 {
  "data": {"name": "D"},
  "transform": [
   {"calculate": "indexof(['≥1.2g ≤25% SB (NBW, HFV)','<1.2g >25% SB (LBW, LFV)','≥1.2g >25% SB (NBW, LFV)','<1.2g ≤25% SB (LBW, HFV)'], datum.cat)", "as": "ord"},
   {"stack": "v", "groupby": ["strain", "dose"], "sort": [{"field": "ord", "order": "ascending"}], "offset": "normalize", "as": ["t0", "t1"]},
   {"calculate": "(datum.t0 + datum.t1) / 2", "as": "mid"},
   {"calculate": "datum.t1 - datum.t0 > 0.999 ? 0 : 37", "as": "lr"},
   {"calculate": "datum.v + '%'", "as": "lab"}
  ],
  "layer": [
   {
    "mark": {"type": "arc", "outerRadius": 67, "stroke": "#ffffff", "strokeWidth": 1.5},
    "encoding": {
     "x": {"field": "strain", "type": "nominal", "scale": {"type": "point", "domain": ["Pb","Pb-VAR"], "padding": 0.214, "align": 0.953}, "axis": null},
     "y": {"field": "dose", "type": "nominal", "scale": {"type": "point", "domain": ["10⁴","10⁵"], "padding": 0.3416, "align": 0.449}, "axis": null},
     "theta": {"field": "t0", "type": "quantitative", "stack": null, "scale": {"domain": [0, 1], "range": [0, 6.283185]}},
     "theta2": {"field": "t1"},
     "color": {"field": "cat", "type": "nominal",
               "scale": {"domain": ["≥1.2g ≤25% SB (NBW, HFV)","<1.2g ≤25% SB (LBW, HFV)","≥1.2g >25% SB (NBW, LFV)","<1.2g >25% SB (LBW, LFV)"], "range": ["#4f81bd","#8064a2","#9bbb59","#c0504d"]},
               "legend": {"title": null, "orient": "none", "legendX": 450, "legendY": 6, "symbolType": "square", "symbolSize": 55, "symbolStrokeWidth": 0, "labelFontSize": 11.5, "labelLimit": 300, "labelColor": "#222222", "labelOffset": 7, "strokeColor": "#aaaaaa", "fillColor": "#ffffff", "padding": 8, "rowPadding": 7}}
    }
   },
   {
    "mark": {"type": "text", "fontSize": 13.5, "color": "#222222"},
    "encoding": {
     "x": {"field": "strain", "type": "nominal"},
     "y": {"field": "dose", "type": "nominal"},
     "theta": {"field": "mid", "type": "quantitative", "stack": null},
     "radius": {"field": "lr", "type": "quantitative", "scale": null},
     "text": {"field": "lab"}
    }
   }
  ]
 },
 {
  "data": {"name": "D"},
  "transform": [{"aggregate": [{"op": "count", "as": "n"}], "groupby": ["dose", "strain"]}, {"filter": "datum.strain == 'Pb'"}],
  "mark": {"type": "text", "fontSize": 13, "fontWeight": "bold", "fontStyle": "italic", "dy": 86, "color": "#111111"},
  "encoding": {"x": {"field": "strain", "type": "nominal"}, "y": {"field": "dose", "type": "nominal"}, "text": {"value": "Pb"}}
 },
 {
  "data": {"name": "D"},
  "transform": [{"aggregate": [{"op": "count", "as": "n"}], "groupby": ["dose", "strain"]}, {"filter": "datum.strain == 'Pb-VAR'"}],
  "layer": [
   {"mark": {"type": "text", "fontSize": 13, "fontWeight": "bold", "fontStyle": "italic", "align": "right", "dx": -7, "dy": 86, "color": "#111111"},
    "encoding": {"x": {"field": "strain", "type": "nominal"}, "y": {"field": "dose", "type": "nominal"}, "text": {"value": "Pb"}}},
   {"mark": {"type": "text", "fontSize": 13, "fontWeight": "bold", "align": "left", "dx": -7, "dy": 86, "color": "#111111"},
    "encoding": {"x": {"field": "strain", "type": "nominal"}, "y": {"field": "dose", "type": "nominal"}, "text": {"value": "-VAR"}}}
  ]
 },
 {
  "data": {"name": "D"},
  "transform": [{"aggregate": [{"op": "count", "as": "n"}], "groupby": ["dose"]}, {"calculate": "datum.dose + ' IEs'", "as": "t"}],
  "mark": {"type": "text", "fontSize": 13, "fontWeight": "bold", "dy": -67, "dx": 36, "color": "#111111"},
  "encoding": {"y": {"field": "dose", "type": "nominal"}, "text": {"field": "t"}}
 },
 {
  "data": {"values": [{"t": "D"}]},
  "mark": {"type": "text", "fontSize": 17, "fontWeight": "bold", "color": "#111111", "dx": -116, "dy": -64},
  "encoding": {"x": {"datum": "Pb"}, "y": {"datum": "10⁴"}, "text": {"field": "t"}}
 }
]
}
]
}
